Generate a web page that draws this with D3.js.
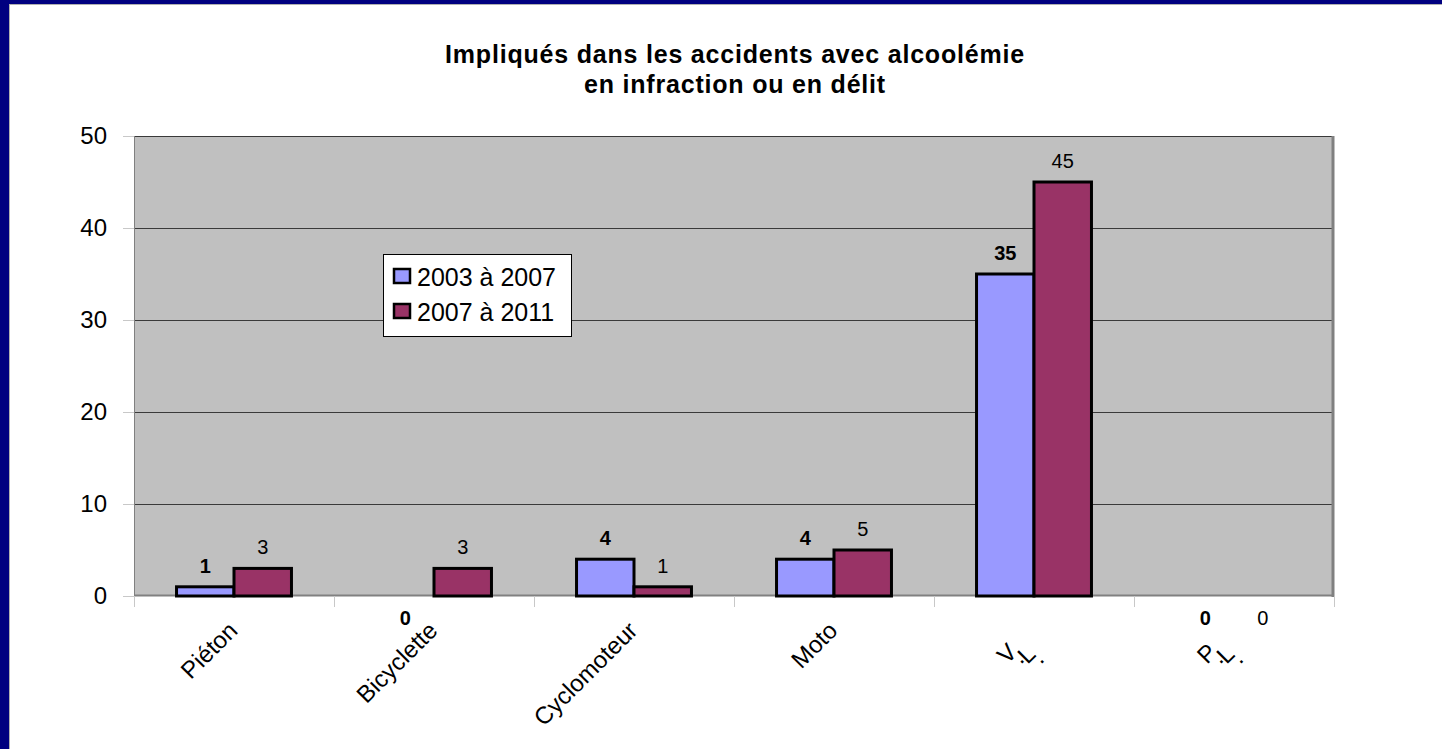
<!DOCTYPE html>
<html><head><meta charset="utf-8">
<script src="https://cdn.jsdelivr.net/npm/d3@7"></script>
<style>html,body{margin:0;padding:0;background:#fff;overflow:hidden}svg{display:block}text{font-family:Arial,"Liberation Sans",sans-serif}</style>
</head><body>
<svg id="c" width="1442" height="749"></svg>
<script>
const categories = ["Piéton","Bicyclette","Cyclomoteur","Moto","V.L.","P.L."];
const seriesNames = ["2003 à 2007","2007 à 2011"];
const values2003 = [1,0,4,4,35,0];
const values2007 = [3,3,1,5,45,0];
const yTicks = [0,10,20,30,40,50];
const colors = ["#9999FF","#993366"];

const svg = d3.select("#c");
svg.append("rect").attr("width",1442).attr("height",749).attr("fill","#000080");
svg.append("rect").attr("x",9).attr("y",4).attr("width",1433).attr("height",745).attr("fill","#fff");
svg.append("line").attr("x1",9.5).attr("x2",9.5).attr("y1",4).attr("y2",749).attr("stroke","#b0b0b0");
svg.append("line").attr("x1",9).attr("x2",1442).attr("y1",4.5).attr("y2",4.5).attr("stroke","#b0b0b0");

const L=134, R=1334, T=136, B=596;
const x = d3.scaleBand().domain(categories).range([L,R]).padding(0);
const y = d3.scaleLinear().domain([0,50]).range([B,T]);
const x1 = d3.scaleBand().domain(seriesNames).range([0,x.bandwidth()]).paddingOuter(0.74).paddingInner(0);

// title
const title = svg.append("text").attr("text-anchor","middle").attr("font-weight","bold").attr("font-size",25)
  .attr("letter-spacing","0.8px").attr("fill","#000");
title.append("tspan").attr("x",735).attr("y",63).text("Impliqués dans les accidents avec alcoolémie");
title.append("tspan").attr("x",735).attr("y",93).text("en infraction ou en délit");

// plot area
svg.append("rect").attr("x",L).attr("y",T).attr("width",R-L).attr("height",B-T).attr("fill","#C0C0C0");

// gridlines
svg.append("g").selectAll("line").data(yTicks.filter(d=>d>0)).join("line")
  .attr("x1",L).attr("x2",R).attr("y1",d=>Math.round(y(d))+0.5).attr("y2",d=>Math.round(y(d))+0.5)
  .attr("stroke","#3a3a3a").attr("stroke-width",1);

// border
svg.append("line").attr("x1",L+0.5).attr("x2",L+0.5).attr("y1",T).attr("y2",B).attr("stroke","#808080");
svg.append("line").attr("x1",R-1).attr("x2",R-1).attr("y1",T).attr("y2",B+1).attr("stroke","#808080").attr("stroke-width",3);
svg.append("line").attr("x1",L).attr("x2",R).attr("y1",B-0.5).attr("y2",B-0.5).attr("stroke","#808080").attr("stroke-width",2);

// y axis
const yAxis = d3.axisLeft(y).tickValues(yTicks).tickSize(11).tickPadding(16).tickFormat(d3.format("d"));
const gy = svg.append("g").attr("transform",`translate(${L},0)`).call(yAxis);
gy.select(".domain").remove();
gy.selectAll(".tick line").attr("stroke","#c8c8c8");
gy.selectAll(".tick text").attr("font-size",24).attr("fill","#000").attr("font-family","Arial, 'Liberation Sans', sans-serif");

// x ticks (boundaries)
svg.append("g").selectAll("line").data(d3.range(categories.length+1)).join("line")
  .attr("x1",i=>L+i*x.bandwidth()+0.5).attr("x2",i=>L+i*x.bandwidth()+0.5)
  .attr("y1",B).attr("y2",B+11).attr("stroke","#c8c8c8");

// bars
const data = categories.map((c,i)=>({c, v:[values2003[i],values2007[i]]}));
const groups = svg.append("g").selectAll("g").data(data).join("g").attr("transform",d=>`translate(${x(d.c)},0)`);
groups.selectAll("rect").data(d=>d.v.map((v,j)=>({v,j}))).join("rect")
  .attr("x",d=>x1(seriesNames[d.j])).attr("width",x1.bandwidth())
  .attr("y",d=>y(d.v)).attr("height",d=>B-y(d.v))
  .attr("fill",d=>colors[d.j]).attr("stroke","#000").attr("stroke-width",d=>d.v>0?3:0);

// data labels
groups.selectAll("text").data(d=>d.v.map((v,j)=>({v,j,c:d.c}))).join("text")
  .filter(d=>!(d.v===0 && d.j===1 && d.c==="Bicyclette"))
  .attr("x",d=>x1(seriesNames[d.j])+x1.bandwidth()/2)
  .attr("y",d=>d.v===0 ? B+29 : y(d.v)-14)
  .attr("text-anchor","middle").attr("font-size",20)
  .attr("font-weight",d=>d.j===0?"bold":"normal").attr("fill","#000")
  .text(d=>d.v);

// category labels
const glyphRotated = d=>d.includes(".");
const cl = svg.append("g");
cl.selectAll("text.n").data(categories.filter(d=>!glyphRotated(d))).join("text").attr("class","n")
  .attr("transform",d=>`translate(${x(d)+x.bandwidth()/2+5},${B+36}) rotate(-45)`)
  .attr("text-anchor","end").attr("font-size",24).attr("fill","#000").text(d=>d);
// abbreviated labels are drawn with per-glyph rotation, as in the original rendering
cl.selectAll("text.s").data(categories.filter(glyphRotated)).join("text").attr("class","s")
  .attr("x",d=>x(d)+x.bandwidth()/2-27).attr("y",B+69)
  .attr("rotate","-45").attr("font-size",24).attr("fill","#000").text(d=>d);

// legend
const lg = svg.append("g");
lg.append("rect").attr("x",383.5).attr("y",254.5).attr("width",188).attr("height",82).attr("fill","#fff").attr("stroke","#000");
seriesNames.forEach((s,i)=>{
  lg.append("rect").attr("x",394).attr("y",269+i*35).attr("width",16).attr("height",14)
    .attr("fill",colors[i]).attr("stroke","#000").attr("stroke-width",2.5);
  lg.append("text").attr("x",417).attr("y",286+i*35).attr("font-size",25).attr("fill","#000").text(s);
});
</script>
</body></html>
